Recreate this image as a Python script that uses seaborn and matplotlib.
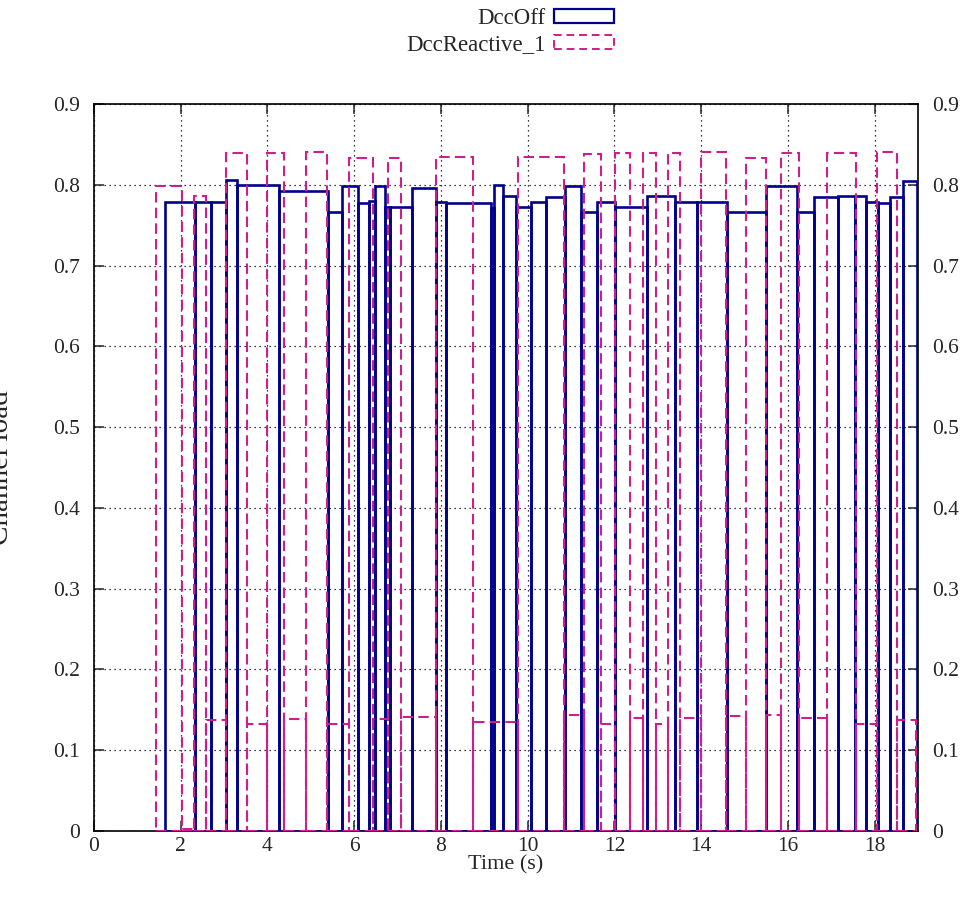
import matplotlib
matplotlib.use("Agg")
import matplotlib.pyplot as plt
from matplotlib.patches import Patch
from matplotlib.ticker import FuncFormatter
import numpy as np
import seaborn as sns

# box edges (s) and channel load for each box
OFF_EDGES = [1.636, 2.327, 2.689, 3.041, 3.288, 4.270, 5.399, 5.730, 6.090, 6.343,
             6.475, 6.705, 6.836, 7.343, 7.880, 8.127, 9.147, 9.224, 9.431, 9.740,
             10.085, 10.431, 10.853, 11.237, 11.597, 12.005, 12.749, 13.403, 13.894, 14.592,
             15.500, 16.205, 16.613, 17.150, 17.551, 17.804, 18.071, 18.357, 18.664, 18.986]
OFF_LOAD = [0.779, 0.779, 0.779, 0.806, 0.800, 0.792, 0.766, 0.799, 0.778, 0.780,
            0.799, 0.772, 0.772, 0.796, 0.779, 0.778, 0.771, 0.800, 0.786, 0.772,
            0.779, 0.785, 0.799, 0.766, 0.779, 0.773, 0.786, 0.779, 0.779, 0.766,
            0.799, 0.766, 0.785, 0.786, 0.786, 0.779, 0.778, 0.785, 0.805]

REACT_EDGES = [1.422, 2.021, 2.304, 2.581, 3.035, 3.518, 3.979, 4.378, 4.885, 5.380,
               5.882, 6.429, 6.781, 7.090, 7.896, 8.740, 9.776, 10.846, 11.290, 11.698,
               12.005, 12.350, 12.650, 12.949, 13.237, 13.514, 14.002, 14.574, 15.046, 15.500,
               15.853, 16.251, 16.912, 17.565, 18.048, 18.509, 18.963]
REACT_LOAD = [0.798, 0.003, 0.786, 0.137, 0.839, 0.132, 0.839, 0.139, 0.840, 0.133,
              0.833, 0.139, 0.833, 0.141, 0.834, 0.135, 0.834, 0.144, 0.838, 0.132,
              0.839, 0.140, 0.839, 0.132, 0.839, 0.140, 0.840, 0.142, 0.833, 0.144,
              0.839, 0.140, 0.839, 0.132, 0.840, 0.137]

X_TICKS = [0, 2, 4, 6, 8, 10, 12, 14, 16, 18]
Y_TICKS = [0, 0.1, 0.2, 0.3, 0.4, 0.5, 0.6, 0.7, 0.8, 0.9]

NAVY = "#00008b"
PINK = "#cc1f8a"

sns.set_style("ticks")
plt.rcParams["font.family"] = ["Liberation Serif", "DejaVu Serif"]


def centers(edges):
    e = np.asarray(edges)
    return (e[:-1] + e[1:]) / 2


fig = plt.figure(figsize=(9.67, 9.10), dpi=100)
ax = fig.add_axes([0.0972, 0.0868, 0.8521, 0.7989])

sns.histplot(x=centers(OFF_EDGES), weights=OFF_LOAD, bins=OFF_EDGES,
             element="bars", fill=False, color=NAVY, linewidth=1.9, ax=ax, zorder=3)
sns.histplot(x=centers(REACT_EDGES), weights=REACT_LOAD, bins=REACT_EDGES,
             element="bars", fill=False, color=PINK, linewidth=1.5,
             linestyle=(0, (5, 2.5)), ax=ax, zorder=4)

ax.set_xlim(0, 19)
ax.set_ylim(0, 0.9)
ax.set_xticks(X_TICKS)
ax.set_yticks(Y_TICKS)
ax.yaxis.set_major_formatter(FuncFormatter(lambda v, _: f"{v:g}"))
ax.grid(True, linestyle=(0, (1, 3)), color="black", linewidth=0.9, zorder=1)
ax.tick_params(axis="both", direction="in", length=7, width=1.1, labelsize=15.5,
               top=True, right=True, labelright=True)
ax.tick_params(axis="y", pad=10)
ax.tick_params(axis="x", pad=4)
for s in ax.spines.values():
    s.set_linewidth(1.2)
    s.set_color("black")

ax.set_xlabel("Time (s)", fontsize=16, labelpad=0)
# the label sits mostly past the left edge of the canvas, as in the source image
ax.set_ylabel("Channel load", fontsize=21)
ax.yaxis.set_label_coords(-0.097, 0.5)

legend_kw = dict(loc="upper right", frameon=False, markerfirst=False,
                 handlelength=2.6, handleheight=0.55, borderpad=0, borderaxespad=0,
                 handletextpad=0.4, fontsize=16.5)
fig.legend(handles=[Patch(facecolor="none", edgecolor=NAVY, linewidth=1.6)],
           labels=["DccOff"], bbox_to_anchor=(614 / 967, 1 - 8 / 910), **legend_kw)
fig.legend(handles=[Patch(facecolor="none", edgecolor=PINK, linewidth=1.4,
                          linestyle=(0, (4, 2.5)))],
           labels=["DccReactive_1"], bbox_to_anchor=(614 / 967, 1 - 34 / 910), **legend_kw)

fig.savefig("out.png", dpi=100)
